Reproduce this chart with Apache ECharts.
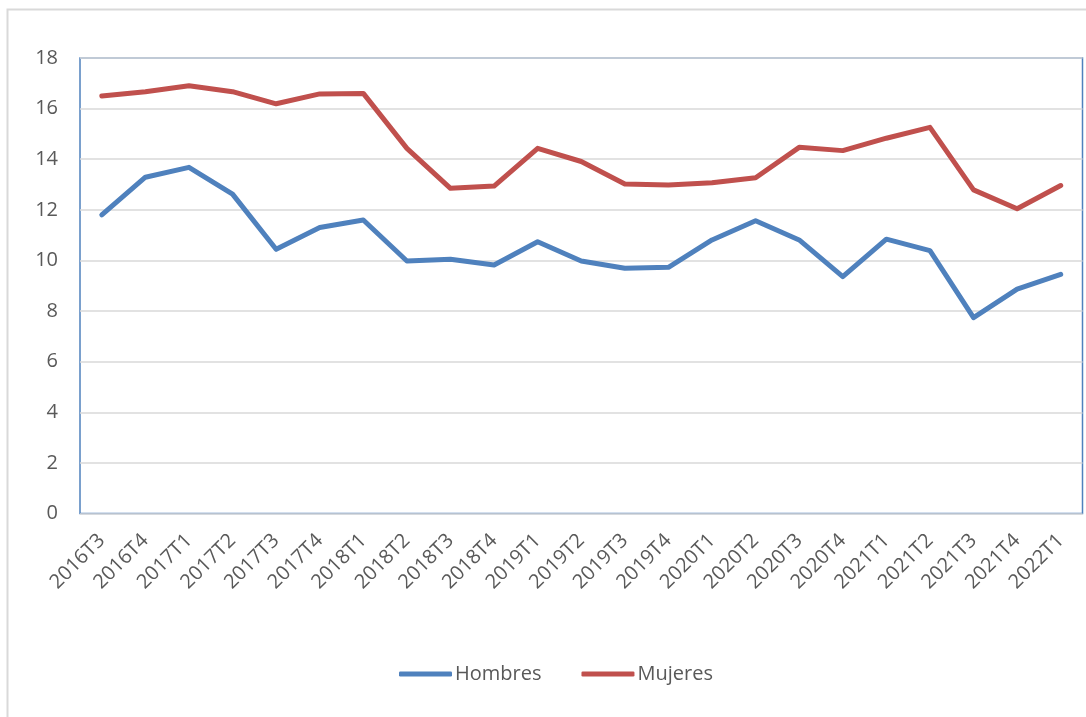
<!DOCTYPE html>
<html>
<head>
<meta charset="utf-8">
<script src="https://cdn.jsdelivr.net/npm/echarts@6/dist/echarts.min.js"></script>
<style>
html,body{margin:0;padding:0;background:#fff;}
#chart{width:1086px;height:717px;}
</style>
</head>
<body>
<div id="chart"></div>
<script>
const categories = ['2016T3','2016T4','2017T1','2017T2','2017T3','2017T4','2018T1','2018T2','2018T3','2018T4','2019T1','2019T2','2019T3','2019T4','2020T1','2020T2','2020T3','2020T4','2021T1','2021T2','2021T3','2021T4','2022T1'];
const hombres = [11.8,13.29,13.68,12.62,10.44,11.3,11.6,9.98,10.05,9.82,10.74,9.98,9.69,9.73,10.81,11.57,10.81,9.36,10.84,10.39,7.74,8.87,9.45];
const mujeres = [16.5,16.67,16.9,16.67,16.19,16.58,16.6,14.43,12.85,12.94,14.43,13.91,13.02,12.98,13.07,13.27,14.47,14.34,14.83,15.26,12.79,12.04,12.96];
const seriesNames = ['Hombres','Mujeres'];

const chart = echarts.init(document.getElementById('chart'), null, {renderer:'canvas'});
const font = "'Open Sans', 'Liberation Sans', sans-serif";
chart.setOption({
  animation: false,
  backgroundColor: '#ffffff',
  textStyle: {fontFamily: font},
  graphic: [{
    type: 'rect',
    shape: {x: 7.5, y: 9.5, width: 1200, height: 800},
    style: {fill: 'none', stroke: '#d9d9d9', lineWidth: 2},
    silent: true, z: -10
  }],
  grid: {
    left: 80, right: 3.5, top: 58, bottom: 203.5,
    show: true, borderColor: '#4f81bd', borderWidth: 1.5, backgroundColor: 'transparent'
  },
  legend: {
    data: seriesNames,
    left: 394,
    top: 659,
    icon: 'roundRect',
    itemWidth: 53,
    itemHeight: 5,
    itemGap: 40,
    textStyle: {fontFamily: font, fontSize: 20, color: '#595959', padding: [0, 0, 0, -2]}
  },
  xAxis: {
    type: 'category',
    data: categories,
    boundaryGap: true,
    axisLine: {show: false},
    axisTick: {show: false},
    splitLine: {show: false},
    axisLabel: {rotate: 45, margin: 24, interval: 0, fontFamily: font, fontSize: 20, color: '#595959'}
  },
  yAxis: {
    type: 'value',
    min: 0, max: 18, interval: 2,
    axisLine: {show: false},
    axisTick: {show: false},
    splitLine: {show: true, lineStyle: {color: '#d9d9d9', width: 1.5}},
    axisLabel: {margin: 22, fontFamily: font, fontSize: 20, color: '#595959'}
  },
  series: [
    {name: seriesNames[0], type: 'line', data: hombres, symbol: 'none',
     lineStyle: {color: '#4f81bd', width: 5, cap: 'round', join: 'round'}, itemStyle: {color: '#4f81bd'}},
    {name: seriesNames[1], type: 'line', data: mujeres, symbol: 'none',
     lineStyle: {color: '#c0504d', width: 5, cap: 'round', join: 'round'}, itemStyle: {color: '#c0504d'}}
  ]
});
</script>
</body>
</html>
